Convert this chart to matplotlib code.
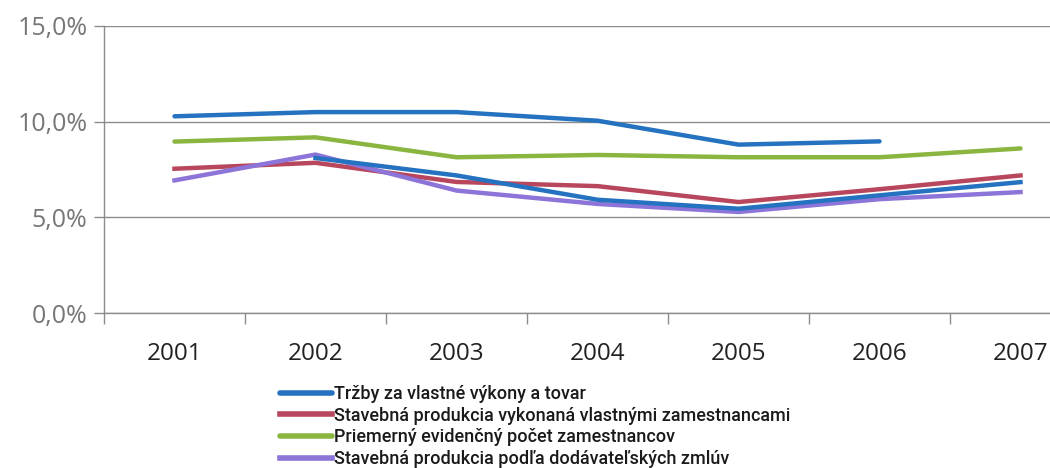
import numpy as np
import matplotlib.pyplot as plt
from matplotlib.ticker import FuncFormatter, FixedLocator

# data (podiel v %)
roky = ['2001', '2002', '2003', '2004', '2005', '2006', '2007']
trzby = [10.28, 10.5, 10.5, 10.05, 8.8, 8.97, np.nan]
produkcia_vlastna = [7.54, 7.85, 6.85, 6.63, 5.8, 6.47, 7.19]
pocet_zam = [8.96, 9.18, 8.14, 8.26, 8.14, 8.14, 8.6]
produkcia_zmluvy = [6.93, 8.28, 6.4, 5.7, 5.28, 5.95, 6.32]
piata_rada = [np.nan, 8.1, 7.19, 5.92, 5.45, 6.15, 6.84]

labels = ['Tržby za vlastné výkony a tovar',
          'Stavebná produkcia vykonaná vlastnými zamestnancami',
          'Priemerný evidenčný počet zamestnancov',
          'Stavebná produkcia podľa dodávateľských zmlúv']

plt.rcParams['font.family'] = ['Open Sans', 'DejaVu Sans']

fig = plt.figure(figsize=(10.5, 4.68), dpi=100)
W, H = 1050, 468
ax = fig.add_axes([104 / W, 1 - 313 / H, 987 / W, (313 - 26) / H])

x = np.arange(len(roky))
lw = 3.2
ax.plot(x, trzby, color='#2472C0', lw=lw, label=labels[0], zorder=3, solid_capstyle='round')
ax.plot(x, produkcia_vlastna, color='#B8475E', lw=lw, label=labels[1], zorder=3)
ax.plot(x, pocet_zam, color='#8AB541', lw=lw, label=labels[2], zorder=3, solid_capstyle='round')
ax.plot(x, produkcia_zmluvy, color='#8C74D8', lw=lw, label=labels[3], zorder=3)
ax.plot(x, piata_rada, color='#2472C0', lw=lw, zorder=3)

ax.set_xlim(-0.5, 6.5)
ax.set_ylim(0, 15)
ax.set_yticks([0, 5, 10, 15])
ax.yaxis.set_major_formatter(FuncFormatter(lambda v, p: f'{v:.1f}%'.replace('.', ',')))
ax.grid(axis='y', color='#8C8C8C', lw=1)
ax.set_axisbelow(True)

ax.set_xticks(x)
ax.set_xticklabels(roky)
ax.xaxis.set_minor_locator(FixedLocator(np.arange(-0.5, 7, 1)))
ax.tick_params(axis='x', which='major', length=0, pad=21, labelsize=17.5, labelcolor='#222222')
ax.tick_params(axis='x', which='minor', length=8, width=1, color='#8C8C8C')
ax.tick_params(axis='y', length=7, width=1, color='#8C8C8C', labelsize=18,
               labelcolor='#777777', pad=5)

for s in ['top', 'right']:
    ax.spines[s].set_visible(False)
for s in ['left', 'bottom']:
    ax.spines[s].set_color('#8C8C8C')
    ax.spines[s].set_linewidth(1)

leg = fig.legend(loc='upper left', bbox_to_anchor=(280 / W, 1 - 385 / H),
                 frameon=False, borderpad=0, borderaxespad=0,
                 handlelength=2.9, handletextpad=0.1, labelspacing=0.2,
                 prop={'family': ['Roboto', 'DejaVu Sans'],
                       'size': 13, 'weight': 'medium'})
for t in leg.get_texts():
    t.set_color('#1A1A1A')
for h in leg.legend_handles:
    h.set_linewidth(4)

fig.savefig('out.png', dpi=100)
